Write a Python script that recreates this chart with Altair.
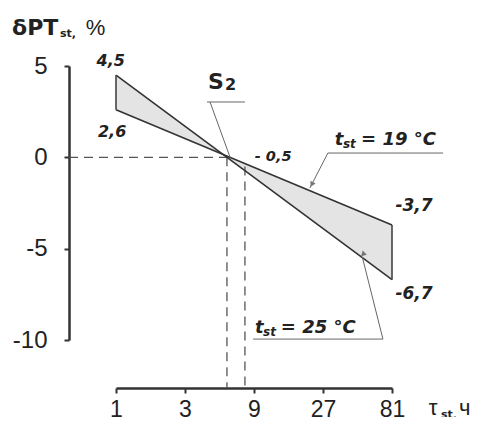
import altair as alt
import pandas as pd

# ---- data ----
tau_ends = [1, 81]
dpt_25 = [4.5, -6.7]    # t_st = 25 °C
dpt_19 = [2.6, -3.7]    # t_st = 19 °C

x_ticks = [1, 3, 9, 27, 81]
y_ticks = [-10, -5, 0, 5]

# value labels
val_text = ["4,5", "2,6", "- 0,5", "-3,7", "-6,7"]
val_tau = [0.92, 0.94, 12.2, 115, 115]
val_dpt = [5.27, 1.41, 0.02, -2.67, -7.48]
val_size = [16, 16, 14.5, 17, 17]

# dashed guide segments
dash_tau = [0.473, 5.85, 7.79]
dash_dpt = [0, 0, -0.5]
dash_tau2 = [5.85, 5.85, 7.79]
dash_dpt2 = [0, -12.63, -12.63]

# leader lines
lead_tau = [4.26, 4.47, 29.2, 29.2, 8.87, 70.1]
lead_dpt = [3.03, 3.03, 0.235, 0.235, -9.95, -9.95]
lead_tau2 = [7.79, 6.15, 182.5, 21.9, 70.1, 50.5]
lead_dpt2 = [3.03, 0.0, 0.235, -1.68, -9.95, -5.46]

# arrow heads
arrow_tau = [22.6, 51.3]
arrow_dpt = [-1.48, -5.24]
arrow_angle = [207, 346]

# composite labels (pieces)
piece_text = ["S", "2",
              "t", "st", "= 19 °C",
              "t", "st", "= 25 °C",
              "δPT", "st,", "%",
              "τ", "st,", "ч"]
piece_tau = [4.33, 5.67,
             32.5, 37.1, 49.5,
             9.14, 10.4, 13.8,
             0.191, 0.410, 0.619,
             145.6, 176.6, 235]
piece_dpt = [3.74, 3.68,
             0.67, 0.51, 0.67,
             -9.62, -9.78, -9.62,
             6.69, 6.58, 6.69,
             -14.10, -14.27, -14.10]
piece_size = [22, 16,
              18, 12, 18,
              18, 12, 18,
              22, 11, 22,
              22, 11, 22]
piece_font = ["DejaVu Sans", "DejaVu Sans",
              "DejaVu Sans", "DejaVu Sans", "DejaVu Sans",
              "DejaVu Sans", "DejaVu Sans", "DejaVu Sans",
              "DejaVu Sans", "DejaVu Sans", "Liberation Sans",
              "Liberation Sans", "DejaVu Sans", "Liberation Sans"]
piece_style = ["normal", "normal",
               "italic", "italic", "italic",
               "italic", "italic", "italic",
               "normal", "normal", "normal",
               "normal", "normal", "normal"]
piece_weight = ["bold", "bold",
                "bold", "bold", "bold",
                "bold", "bold", "bold",
                "bold", "bold", "normal",
                "normal", "bold", "normal"]

FONT = "DejaVu Sans"
TICKFONT = "Liberation Sans"
xs = alt.Scale(type="log", base=3, domain=[1, 81], nice=False)
ys = alt.Scale(domain=[-10, 5], nice=False, zero=False)
x_axis = alt.Axis(values=x_ticks, offset=48, title=None, grid=False, labelExpr="toString(datum.value)",
                  labelFontSize=23, labelFont=TICKFONT, labelColor="#222", labelPadding=5,
                  domainColor="#333", domainWidth=2.5, tickColor="#333", tickWidth=2, tickSize=5,
                  labelFlush=False, labelOverlap=False)
y_axis = alt.Axis(values=y_ticks, offset=47, title=None, grid=False, labelExpr="toString(datum.value)",
                  labelFontSize=24, labelFont=TICKFONT, labelColor="#222", labelPadding=17,
                  domainColor="#333", domainWidth=2.5, tickColor="#333", tickWidth=2, tickSize=5,
                  labelFlush=False, labelOverlap=False)


def X(f="tau"):
    return alt.X(f"{f}:Q", scale=xs, axis=x_axis)


def Y(f="dpt"):
    return alt.Y(f"{f}:Q", scale=ys, axis=y_axis)


band = pd.DataFrame({"tau": tau_ends, "dpt": dpt_25, "dpt19": dpt_19})
line25 = pd.DataFrame({"tau": tau_ends, "dpt": dpt_25})
line19 = pd.DataFrame({"tau": tau_ends, "dpt": dpt_19})
edges = pd.DataFrame({"tau": tau_ends, "dpt": dpt_25, "dpt2": dpt_19})
dashes = pd.DataFrame({"tau": dash_tau, "dpt": dash_dpt, "tau2": dash_tau2, "dpt2": dash_dpt2})
leads = pd.DataFrame({"tau": lead_tau, "dpt": lead_dpt, "tau2": lead_tau2, "dpt2": lead_dpt2})
arrows = pd.DataFrame({"tau": arrow_tau, "dpt": arrow_dpt, "ang": arrow_angle})
vals = pd.DataFrame({"tau": val_tau, "dpt": val_dpt, "label": val_text, "size": val_size})
pieces = pd.DataFrame({"tau": piece_tau, "dpt": piece_dpt, "label": piece_text, "size": piece_size,
                       "font": piece_font, "style": piece_style, "weight": piece_weight})

area = alt.Chart(band).mark_area(color="#e4e4e4", opacity=1).encode(
    x=X(), y=Y(), y2=alt.Y2("dpt19:Q"))
l25 = alt.Chart(line25).mark_line(color="#333", strokeWidth=1.6).encode(x=X(), y=Y())
l19 = alt.Chart(line19).mark_line(color="#333", strokeWidth=1.6).encode(x=X(), y=Y())
edge = alt.Chart(edges).mark_rule(color="#444", strokeWidth=1.6).encode(
    x=X(), y=Y(), y2=alt.Y2("dpt2:Q"))
dash = alt.Chart(dashes).mark_rule(color="#555", strokeWidth=1.3, strokeDash=[9, 6]).encode(
    x=X(), y=Y(), x2=alt.X2("tau2:Q"), y2=alt.Y2("dpt2:Q"))
lead = alt.Chart(leads).mark_rule(color="#666", strokeWidth=1).encode(
    x=X(), y=Y(), x2=alt.X2("tau2:Q"), y2=alt.Y2("dpt2:Q"))
arrow = alt.Chart(arrows).mark_point(shape="triangle-up", filled=True, color="#777", size=35,
                                      opacity=1).encode(
    x=X(), y=Y(), angle=alt.Angle("ang:Q", scale=None))
vtext = alt.Chart(vals).mark_text(font=FONT, fontWeight="bold", fontStyle="italic", color="#222",
                                  align="center", baseline="middle").encode(
    x=X(), y=Y(), text="label:N", size=alt.Size("size:Q", scale=None, legend=None))

piece_layers = []
for fnt in [FONT, TICKFONT]:
    for st in ["normal", "italic"]:
        for wt in ["normal", "bold"]:
            sub = pieces[(pieces["font"] == fnt) & (pieces["style"] == st) & (pieces["weight"] == wt)]
            if len(sub) == 0:
                continue
            piece_layers.append(
                alt.Chart(sub).mark_text(font=fnt, fontWeight=wt, fontStyle=st, color="#222",
                                         align="left", baseline="alphabetic").encode(
                    x=X(), y=Y(), text="label:N", size=alt.Size("size:Q", scale=None, legend=None)))

chart = alt.layer(area, dash, l25, l19, edge, lead, arrow, vtext, *piece_layers).properties(
    width=276, height=274,
    autosize=alt.AutoSizeParams(type="none"),
    padding={"left": 108, "top": 58, "right": 81, "bottom": 77},
).configure_view(stroke=None)

chart.save("out.html", embed_options={"renderer": "svg", "actions": False})
